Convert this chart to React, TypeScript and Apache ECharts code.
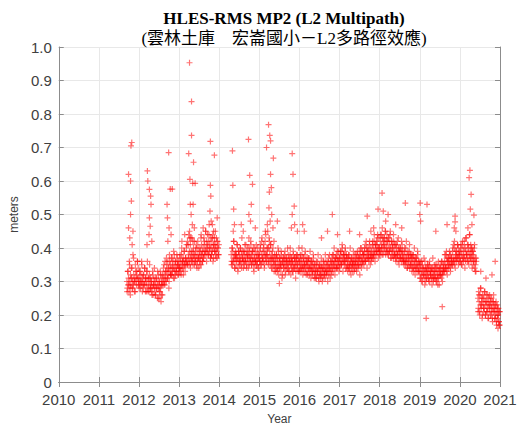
import React, { useEffect, useRef } from "react";
import * as echarts from "echarts";

// Daily-ish RMS MP2 values (meters), one value every 0.01 year from each segment start
const seg2011 = [
  0.30,0.28,0.33,0.29,0.31,0.27,0.36,0.30,0.28,0.32,
  0.29,0.34,0.31,0.28,0.30,0.38,0.29,0.32,0.30,0.27,
  0.31,0.35,0.30,0.33,0.29,0.32,0.36,0.31,0.34,0.30,
];
const seg2012 = [
  0.31,0.29,0.33,0.30,0.28,0.32,0.30,0.35,0.29,0.31,
  0.30,0.28,0.32,0.29,0.34,0.30,0.27,0.31,0.29,0.33,
  0.30,0.36,0.28,0.31,0.29,0.27,0.32,0.30,0.28,0.31,
  0.29,0.27,0.30,0.28,0.33,0.26,0.29,0.31,0.28,0.30,
  0.27,0.29,0.26,0.31,0.28,0.30,0.25,0.29,0.32,0.28,
  0.30,0.27,0.29,0.33,0.28,0.31,0.26,0.30,0.29,0.32,
  0.31,0.34,0.29,0.32,0.30,0.36,0.31,0.33,0.30,0.35,
  0.33,0.31,0.36,0.32,0.34,0.30,0.38,0.33,0.35,0.32,
  0.34,0.37,0.32,0.35,0.33,0.36,0.31,0.34,0.38,0.33,
  0.35,0.32,0.36,0.34,0.33,0.37,0.35,0.32,0.36,0.34,
];
const seg2013 = [
  0.35,0.33,0.37,0.34,0.36,0.32,0.38,0.35,0.34,0.36,
  0.37,0.34,0.36,0.39,0.35,0.33,0.37,0.35,0.40,0.36,
  0.36,0.42,0.35,0.38,0.44,0.36,0.39,0.35,0.41,0.37,
  0.38,0.36,0.43,0.37,0.39,0.35,0.40,0.37,0.42,0.38,
  0.36,0.39,0.37,0.41,0.35,0.38,0.36,0.40,0.37,0.34,
  0.38,0.36,0.40,0.37,0.39,0.35,0.41,0.38,0.36,0.39,
  0.40,0.37,0.43,0.38,0.41,0.39,0.45,0.38,0.40,0.42,
  0.39,0.44,0.40,0.38,0.42,0.47,0.39,0.41,0.37,0.43,
  0.40,0.38,0.42,0.39,0.44,0.40,0.37,0.41,0.43,0.39,
  0.41,0.38,0.40,0.43,0.39,0.37,0.42,0.40,0.38,0.41,
];
const seg2014 = [
  0.38,0.36,0.40,0.35,0.39,0.37,0.42,0.36,0.38,0.34,
  0.37,0.39,0.35,0.38,0.36,0.41,0.37,0.34,0.39,0.36,
  0.38,0.35,0.37,0.40,0.36,0.38,0.34,0.39,0.37,0.36,
  0.39,0.36,0.38,0.35,0.41,0.37,0.36,0.39,0.34,0.38,
  0.37,0.40,0.36,0.38,0.43,0.35,0.39,0.37,0.36,0.41,
  0.38,0.35,0.37,0.39,0.36,0.40,0.34,0.38,0.37,0.35,
  0.36,0.39,0.37,0.35,0.38,0.36,0.40,0.34,0.37,0.38,
];
const seg2015 = [
  0.37,0.39,0.36,0.40,0.35,0.38,0.42,0.36,0.37,0.39,
  0.36,0.41,0.38,0.35,0.39,0.37,0.44,0.36,0.38,0.40,
  0.38,0.45,0.37,0.40,0.36,0.42,0.39,0.35,0.41,0.37,
  0.36,0.38,0.34,0.37,0.40,0.35,0.37,0.33,0.38,0.36,
  0.35,0.37,0.34,0.38,0.36,0.33,0.37,0.35,0.39,0.34,
  0.36,0.34,0.37,0.35,0.33,0.38,0.35,0.36,0.32,0.37,
  0.35,0.37,0.34,0.36,0.39,0.35,0.33,0.37,0.36,0.34,
  0.36,0.34,0.38,0.35,0.37,0.33,0.36,0.40,0.35,0.37,
  0.34,0.37,0.35,0.36,0.33,0.38,0.35,0.34,0.37,0.36,
  0.35,0.33,0.37,0.36,0.34,0.38,0.35,0.37,0.33,0.36,
];
const seg2016 = [
  0.36,0.34,0.37,0.35,0.33,0.36,0.38,0.34,0.35,0.37,
  0.34,0.36,0.33,0.35,0.38,0.34,0.36,0.32,0.35,0.37,
  0.35,0.33,0.36,0.34,0.37,0.32,0.35,0.34,0.36,0.33,
  0.34,0.36,0.32,0.35,0.33,0.37,0.34,0.31,0.35,0.33,
  0.33,0.35,0.31,0.34,0.32,0.36,0.33,0.34,0.31,0.35,
  0.32,0.34,0.33,0.31,0.35,0.32,0.34,0.30,0.33,0.36,
  0.34,0.32,0.35,0.33,0.31,0.34,0.36,0.33,0.32,0.35,
  0.33,0.36,0.34,0.32,0.35,0.38,0.33,0.34,0.36,0.32,
  0.35,0.37,0.34,0.36,0.33,0.38,0.35,0.36,0.34,0.37,
  0.36,0.34,0.38,0.35,0.37,0.34,0.36,0.39,0.35,0.37,
];
const seg2017 = [
  0.37,0.35,0.38,0.36,0.39,0.35,0.37,0.40,0.36,0.38,
  0.36,0.38,0.35,0.37,0.39,0.36,0.34,0.38,0.37,0.35,
  0.35,0.37,0.34,0.36,0.38,0.35,0.33,0.36,0.35,0.37,
  0.34,0.36,0.35,0.33,0.37,0.35,0.36,0.34,0.38,0.35,
  0.36,0.34,0.37,0.35,0.38,0.36,0.34,0.37,0.35,0.39,
  0.37,0.35,0.38,0.36,0.40,0.37,0.35,0.39,0.36,0.38,
  0.38,0.36,0.39,0.37,0.41,0.36,0.38,0.40,0.37,0.39,
  0.37,0.40,0.38,0.36,0.39,0.42,0.37,0.38,0.40,0.36,
  0.39,0.37,0.41,0.38,0.40,0.37,0.42,0.39,0.38,0.41,
  0.40,0.38,0.42,0.39,0.41,0.44,0.39,0.40,0.43,0.38,
];
const seg2018 = [
  0.40,0.38,0.42,0.39,0.44,0.41,0.38,0.43,0.40,0.42,
  0.41,0.39,0.43,0.40,0.45,0.38,0.42,0.40,0.44,0.39,
  0.42,0.40,0.38,0.43,0.41,0.39,0.44,0.40,0.37,0.42,
  0.39,0.41,0.38,0.40,0.37,0.42,0.39,0.38,0.41,0.37,
  0.38,0.40,0.37,0.39,0.42,0.38,0.36,0.40,0.39,0.37,
  0.39,0.37,0.40,0.38,0.36,0.39,0.41,0.37,0.38,0.36,
  0.37,0.39,0.36,0.38,0.35,0.40,0.37,0.36,0.38,0.34,
  0.36,0.38,0.35,0.37,0.39,0.34,0.36,0.38,0.35,0.37,
  0.35,0.37,0.34,0.36,0.38,0.33,0.36,0.35,0.37,0.34,
  0.36,0.34,0.37,0.33,0.35,0.38,0.34,0.36,0.33,0.35,
];
const seg2019 = [
  0.33,0.35,0.31,0.34,0.32,0.36,0.33,0.30,0.34,0.32,
  0.34,0.31,0.33,0.36,0.32,0.30,0.34,0.33,0.31,0.35,
  0.32,0.34,0.31,0.33,0.35,0.30,0.33,0.32,0.34,0.31,
  0.33,0.31,0.34,0.32,0.30,0.33,0.35,0.31,0.32,0.34,
  0.31,0.33,0.30,0.34,0.32,0.29,0.33,0.31,0.34,0.32,
  0.33,0.35,0.32,0.34,0.31,0.36,0.33,0.32,0.35,0.34,
  0.35,0.33,0.36,0.34,0.38,0.35,0.33,0.37,0.34,0.36,
  0.36,0.34,0.37,0.35,0.39,0.36,0.34,0.38,0.35,0.37,
  0.37,0.35,0.39,0.36,0.41,0.37,0.35,0.40,0.36,0.38,
  0.37,0.39,0.36,0.38,0.41,0.37,0.40,0.38,0.36,0.39,
];
const seg2020a = [
  0.37,0.39,0.36,0.40,0.38,0.35,0.41,0.37,0.39,0.36,
  0.38,0.42,0.37,0.40,0.36,0.39,0.43,0.38,0.37,0.41,
  0.39,0.36,0.40,0.38,0.44,0.37,0.39,0.41,0.36,0.38,
  0.40,0.37,0.39,0.35,0.38,0.36,0.40,0.34,0.37,0.35,
  0.33,0.36,
];
const seg2020b = [
  0.25,0.22,0.27,0.24,0.21,0.26,0.23,0.28,0.22,0.25,
  0.24,0.20,0.26,0.23,0.21,0.25,0.22,0.27,0.24,0.20,
  0.23,0.26,0.21,0.24,0.22,0.19,0.25,0.23,0.21,0.26,
  0.22,0.24,0.20,0.23,0.25,0.21,0.19,0.24,0.22,0.26,
  0.21,0.23,0.19,0.22,0.20,0.24,0.18,0.21,0.23,0.19,
  0.20,0.22,0.18,0.21,0.17,
];
const segmentStarts = [2011.70, 2012.0, 2013.0, 2014.30, 2015.0, 2016.0, 2017.0, 2018.0, 2019.0, 2020.0, 2020.45];
const segmentValues = [seg2011, seg2012, seg2013, seg2014, seg2015, seg2016, seg2017, seg2018, seg2019, seg2020a, seg2020b];
const sampleStep = 0.01;

// Further day-to-day scatter within the band, one value every 0.02 year from each segment start
const spread2011 = [0.27,0.33,0.29,0.35,0.26,0.31,0.34,0.28,0.37,0.30,0.27,0.33,0.31,0.36,0.29];
const spread2012 = [
  0.28,0.33,0.30,0.36,0.27,0.32,0.29,0.34,0.31,0.27,
  0.33,0.27,0.31,0.35,0.28,0.30,0.26,0.32,0.29,0.34,
  0.26,0.31,0.28,0.33,0.25,0.30,0.27,0.32,0.29,0.26,
  0.30,0.35,0.29,0.33,0.37,0.31,0.34,0.28,0.36,0.32,
  0.32,0.37,0.34,0.39,0.31,0.36,0.33,0.38,0.35,0.32,
];
const spread2013 = [
  0.34,0.38,0.33,0.40,0.36,0.32,0.39,0.35,0.37,0.41,
  0.35,0.41,0.37,0.43,0.34,0.39,0.36,0.42,0.38,0.35,
  0.36,0.40,0.34,0.42,0.37,0.39,0.35,0.43,0.38,0.36,
  0.37,0.42,0.39,0.45,0.36,0.41,0.38,0.44,0.40,0.37,
  0.38,0.43,0.36,0.41,0.39,0.45,0.37,0.42,0.40,0.38,
];
const spread2014 = [
  0.35,0.40,0.36,0.42,0.34,0.38,0.37,0.41,0.33,0.39,
  0.36,0.40,0.35,0.43,0.37,0.34,0.39,0.36,0.41,0.35,
  0.38,0.34,0.40,0.37,0.42,0.35,0.39,0.36,0.33,0.40,
  0.36,0.41,0.35,0.38,0.34,
];
const spread2015 = [
  0.36,0.41,0.35,0.43,0.37,0.40,0.34,0.42,0.38,0.36,
  0.40,0.35,0.43,0.37,0.41,0.34,0.39,0.36,0.42,0.35,
  0.33,0.38,0.34,0.40,0.32,0.37,0.35,0.39,0.31,0.36,
  0.34,0.38,0.32,0.37,0.35,0.40,0.33,0.36,0.38,0.32,
  0.36,0.33,0.39,0.34,0.37,0.31,0.38,0.35,0.33,0.40,
];
const spread2016 = [
  0.33,0.38,0.34,0.40,0.32,0.37,0.35,0.39,0.33,0.36,
  0.32,0.37,0.34,0.39,0.31,0.36,0.33,0.38,0.35,0.32,
  0.31,0.36,0.33,0.38,0.30,0.35,0.32,0.37,0.34,0.31,
  0.36,0.32,0.38,0.33,0.35,0.30,0.37,0.34,0.31,0.36,
  0.33,0.38,0.35,0.40,0.32,0.37,0.34,0.39,0.36,0.33,
];
const spread2017 = [
  0.34,0.39,0.35,0.41,0.33,0.38,0.36,0.40,0.34,0.37,
  0.33,0.38,0.34,0.40,0.32,0.37,0.35,0.39,0.33,0.36,
  0.38,0.33,0.39,0.35,0.37,0.32,0.40,0.34,0.36,0.38,
  0.35,0.40,0.36,0.42,0.34,0.39,0.37,0.41,0.35,0.38,
  0.37,0.42,0.38,0.44,0.36,0.41,0.39,0.43,0.37,0.40,
];
const spread2018 = [
  0.39,0.44,0.40,0.46,0.38,0.43,0.41,0.45,0.39,0.42,
  0.38,0.43,0.39,0.45,0.37,0.42,0.40,0.44,0.38,0.41,
  0.36,0.41,0.38,0.43,0.35,0.40,0.37,0.42,0.39,0.36,
  0.35,0.40,0.36,0.42,0.34,0.39,0.37,0.41,0.35,0.38,
  0.33,0.38,0.34,0.40,0.32,0.37,0.35,0.39,0.33,0.36,
];
const spread2019 = [
  0.31,0.36,0.30,0.35,0.32,0.37,0.29,0.34,0.31,0.33,
  0.35,0.30,0.36,0.32,0.34,0.29,0.37,0.31,0.33,0.35,
  0.30,0.35,0.31,0.36,0.29,0.34,0.32,0.36,0.30,0.33,
  0.33,0.38,0.34,0.39,0.32,0.37,0.35,0.38,0.33,0.36,
  0.35,0.40,0.36,0.42,0.34,0.39,0.37,0.41,0.35,0.38,
];
const spread2020a = [0.36,0.41,0.35,0.42,0.37,0.40,0.34,0.43,0.38,0.36,0.41,0.35,0.44,0.37,0.40,0.34,0.39,0.36,0.41,0.33,0.37];
const spread2020b = [0.21,0.26,0.20,0.28,0.23,0.19,0.25,0.22,0.27,0.20,0.24,0.21,0.26,0.19,0.23,0.25,0.20,0.22,0.18,0.24,0.21,0.19,0.23,0.17,0.22,0.20,0.18,0.21];
const spreadValues = [spread2011, spread2012, spread2013, spread2014, spread2015, spread2016, spread2017, spread2018, spread2019, spread2020a, spread2020b];
const spreadStep = 0.02;

// Isolated spikes / outliers: [year, meters]
const outliers = [
  [2011.74,0.62],[2011.79,0.60],[2011.82,0.715],[2011.80,0.705],[2011.81,0.54],[2011.79,0.50],[2011.74,0.46],[2011.77,0.43],[2011.85,0.45],[2011.83,0.41],
  [2012.21,0.63],[2012.22,0.60],[2012.26,0.575],[2012.29,0.555],[2012.30,0.53],[2012.26,0.49],[2012.28,0.465],[2012.25,0.44],[2012.32,0.42],[2012.20,0.41],
  [2012.74,0.685],[2012.78,0.576],[2012.83,0.576],[2012.70,0.53],[2012.71,0.49],[2012.75,0.46],[2012.80,0.44],[2012.72,0.42],[2012.55,0.24],[2012.52,0.25],
  [2013.26,0.953],[2013.31,0.837],[2013.31,0.736],[2013.24,0.682],[2013.36,0.656],[2013.27,0.605],[2013.34,0.593],[2013.40,0.593],[2013.28,0.53],[2013.35,0.53],[2013.30,0.50],[2013.33,0.47],[2013.26,0.45],[2013.38,0.46],[2013.29,0.43],
  [2013.78,0.718],[2013.88,0.677],[2013.78,0.587],[2013.79,0.555],[2013.77,0.51],[2013.80,0.48],[2013.83,0.47],[2013.86,0.45],[2013.95,0.49],[2013.60,0.46],[2013.55,0.44],[2013.14,0.44],[2013.07,0.42],
  [2014.33,0.69],[2014.34,0.587],[2014.36,0.516],[2014.38,0.47],[2014.35,0.45],[2014.73,0.724],[2014.76,0.617],[2014.83,0.59],[2014.80,0.53],[2014.74,0.50],[2014.78,0.48],[2014.90,0.46],[2014.55,0.47],[2014.60,0.45],
  [2015.23,0.768],[2015.26,0.736],[2015.28,0.72],[2015.18,0.70],[2015.35,0.668],[2015.28,0.62],[2015.30,0.58],[2015.25,0.567],[2015.24,0.52],[2015.31,0.50],[2015.27,0.48],[2015.20,0.47],[2015.34,0.46],[2015.15,0.45],
  [2015.82,0.682],[2015.84,0.62],[2015.87,0.525],[2015.82,0.50],[2015.88,0.47],[2015.80,0.46],[2015.50,0.294],[2015.45,0.48],[2015.95,0.45],
  [2016.08,0.47],[2016.12,0.45],[2016.55,0.43],[2016.82,0.50],[2016.70,0.45],[2016.95,0.44],
  [2017.25,0.45],[2017.50,0.44],[2017.69,0.495],[2017.96,0.516],[2017.85,0.46],[2017.78,0.45],
  [2018.06,0.564],[2018.09,0.51],[2018.21,0.50],[2018.15,0.48],[2018.64,0.534],[2018.40,0.47],[2018.55,0.46],
  [2019.01,0.534],[2019.00,0.50],[2019.02,0.48],[2019.18,0.53],[2019.16,0.19],[2019.56,0.225],[2019.40,0.45],[2019.68,0.47],[2019.88,0.495],[2019.88,0.478],[2019.86,0.46],[2019.90,0.45],
  [2020.25,0.632],[2020.23,0.61],[2020.28,0.56],[2020.26,0.516],[2020.35,0.498],[2020.30,0.47],[2020.20,0.46],[2020.88,0.36],[2020.65,0.31],[2020.80,0.32],[2020.52,0.33],[2020.95,0.16],[2020.98,0.17],
];

const yearTicks = [2010, 2011, 2012, 2013, 2014, 2015, 2016, 2017, 2018, 2019, 2020, 2021];

const titleText = "HLES-RMS MP2 (L2 Multipath)";
const subtitleText = "(雲林土庫\u3000宏崙國小－L2多路徑效應)";

export default function App() {
  const ref = useRef<HTMLDivElement>(null);
  useEffect(() => {
    if (!ref.current) return;
    const chart = echarts.init(ref.current, undefined, { renderer: "svg" });
    const points: number[][] = [];
    segmentValues.forEach((vals, s) => {
      vals.forEach((v, i) => points.push([segmentStarts[s] + i * sampleStep, v]));
    });
    spreadValues.forEach((vals, s) => {
      vals.forEach((v, i) => points.push([segmentStarts[s] + i * spreadStep + 0.005, v]));
    });
    outliers.forEach((p) => points.push(p));

    const axisColor = "#8c8c8c";
    const labelColor = "#404040";
    const sans = "'Liberation Sans', Arial, sans-serif";
    chart.setOption({
      animation: false,
      backgroundColor: "#ffffff",
      title: [
        {
          text: titleText,
          left: 279,
          top: 5,
          textAlign: "center",
          textStyle: { fontFamily: "'Liberation Serif', serif", fontWeight: "bold", fontSize: 17, color: "#000" },
        },
        {
          text: subtitleText,
          left: 279,
          top: 25,
          textAlign: "center",
          textStyle: { fontFamily: "'Liberation Serif', 'Noto Sans CJK TC', serif", fontWeight: "normal", fontSize: 17, color: "#000" },
        },
      ],
      grid: { left: 58, right: 26, top: 47, bottom: 46, containLabel: false },
      xAxis: [
        {
          type: "value",
          min: yearTicks[0],
          max: yearTicks[yearTicks.length - 1],
          interval: 1,
          name: "Year",
          nameLocation: "middle",
          nameGap: 31,
          nameTextStyle: { fontFamily: sans, fontSize: 12, color: labelColor },
          axisLine: { show: true, lineStyle: { color: axisColor, width: 1 } },
          axisTick: { show: true, inside: true, length: 5, lineStyle: { color: axisColor } },
          axisLabel: { fontFamily: sans, fontSize: 15, color: labelColor, margin: 10, formatter: (v: number) => String(v) },
          splitLine: { show: true, lineStyle: { color: "#e8e8e8", width: 1 } },
        },
        {
          type: "value",
          position: "top",
          min: yearTicks[0],
          max: yearTicks[yearTicks.length - 1],
          interval: 1,
          axisLine: { show: true, lineStyle: { color: axisColor, width: 1 } },
          axisTick: { show: true, inside: true, length: 5, lineStyle: { color: axisColor } },
          axisLabel: { show: false },
          splitLine: { show: false },
        },
      ],
      yAxis: [
        {
          type: "value",
          min: 0,
          max: 1,
          interval: 0.1,
          name: "meters",
          nameLocation: "middle",
          nameGap: 34,
          nameTextStyle: { fontFamily: sans, fontSize: 12, color: labelColor },
          axisLine: { show: true, lineStyle: { color: axisColor, width: 1 } },
          axisTick: { show: true, inside: true, length: 5, lineStyle: { color: axisColor } },
          axisLabel: {
            fontFamily: sans,
            fontSize: 15,
            color: labelColor,
            margin: 7,
            formatter: (v: number) => (v === 0 ? "0" : v.toFixed(1)),
          },
          splitLine: { show: true, lineStyle: { color: "#e8e8e8", width: 1 } },
        },
        {
          type: "value",
          position: "right",
          min: 0,
          max: 1,
          interval: 0.1,
          axisLine: { show: true, lineStyle: { color: axisColor, width: 1 } },
          axisTick: { show: true, inside: true, length: 5, lineStyle: { color: axisColor } },
          axisLabel: { show: false },
          splitLine: { show: false },
        },
      ],
      series: [
        {
          type: "scatter",
          xAxisIndex: 0,
          yAxisIndex: 0,
          data: points,
          symbol: "path://M4,0H6V4H10V6H6V10H4V6H0V4H4Z",
          symbolSize: 6,
          itemStyle: { color: "#ff0000", opacity: 0.55 },
        },
      ],
    });
    return () => chart.dispose();
  }, []);
  return (
    <div
      ref={ref}
      style={{ position: "fixed", left: 0, top: 0, width: 526, height: 430, background: "#fff" }}
    />
  );
}
